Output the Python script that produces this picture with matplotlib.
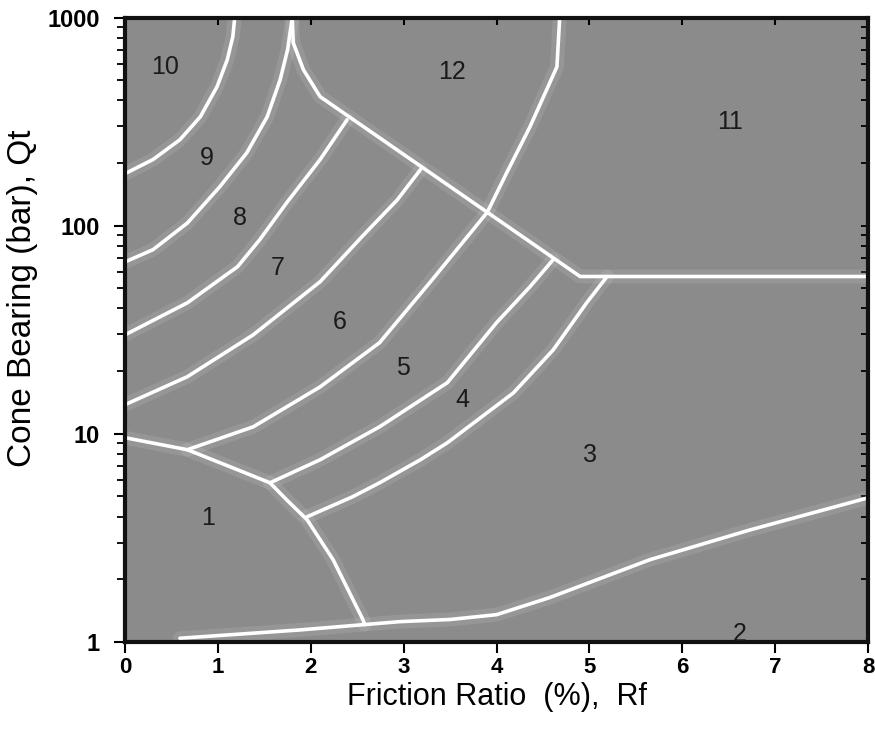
import matplotlib
matplotlib.use("Agg")
import matplotlib.pyplot as plt
from matplotlib.ticker import FixedLocator, FixedFormatter, LogLocator, NullFormatter

plt.rcParams['font.family'] = ['Liberation Sans', 'DejaVu Sans']

# Zonengrenzen (Rf in %, Qt in bar)
grenze_10_9_x = [0.0, 0.30, 0.59, 0.81, 0.99, 1.10, 1.16, 1.18]
grenze_10_9_y = [178, 208, 259, 334, 466, 628, 811, 1000]

grenze_9_8_x = [0.0, 0.30, 0.67, 1.02, 1.31, 1.53, 1.67, 1.75, 1.80]
grenze_9_8_y = [67, 76.7, 103, 154, 224, 334, 504, 702, 1000]

grenze_8_7_x = [0.0, 0.67, 1.21, 1.45, 1.74, 2.10, 2.39]
grenze_8_7_y = [29.9, 42.6, 63.5, 85.7, 129, 208, 323]

grenze_7_6_x = [0.0, 0.67, 1.38, 2.10, 2.56, 2.93, 3.18]
grenze_7_6_y = [13.8, 18.8, 29.9, 53.8, 89.5, 133, 186]

grenze_6_5_x = [0.67, 1.38, 2.10, 2.74, 3.28, 3.90, 4.11, 4.36, 4.54, 4.65, 4.68]
grenze_6_5_y = [8.38, 10.8, 16.8, 27.4, 53.2, 116, 180, 299, 451, 581, 1000]

grenze_5_4_x = [1.56, 2.10, 2.74, 3.18, 3.47, 4.00, 4.36, 4.61]
grenze_5_4_y = [5.81, 7.50, 10.8, 14.5, 17.6, 34.2, 50.9, 68.7]

grenze_4_3_x = [1.96, 2.45, 2.74, 3.18, 3.47, 4.18, 4.61, 4.97, 5.19]
grenze_4_3_y = [3.99, 4.98, 5.81, 7.50, 9.05, 15.7, 25.3, 42.6, 57.0]

grenze_1_x = [0.0, 0.67, 1.13, 1.56, 1.74, 1.96, 2.24, 2.56, 2.58]
grenze_1_y = [9.57, 8.38, 6.94, 5.81, 4.81, 3.86, 2.48, 1.28, 1.21]

grenze_12_x = [1.80, 1.81, 1.92, 2.10, 4.90, 8.0]
grenze_12_y = [1000, 758, 562, 417, 57.0, 57.0]

grenze_2_x = [0.59, 1.88, 2.96, 3.50, 4.00, 4.57, 5.65, 6.73, 8.0]
grenze_2_y = [1.04, 1.14, 1.25, 1.28, 1.35, 1.63, 2.48, 3.45, 4.92]

# Zonennummern
zonen = ["1", "2", "3", "4", "5", "6", "7", "8", "9", "10", "11", "12"]
zonen_x = [0.89, 6.62, 5.01, 3.63, 2.99, 2.31, 1.64, 1.24, 0.88, 0.43, 6.51, 3.52]
zonen_y = [3.95, 1.09, 7.93, 14.6, 20.8, 34.5, 62.8, 109, 212, 581, 316, 550]

x_ticks = [0, 1, 2, 3, 4, 5, 6, 7, 8]
y_ticks = [1, 10, 100, 1000]
y_tick_labels = ["1", "10", "100", "1000"]

grenzen = [
    (grenze_10_9_x, grenze_10_9_y),
    (grenze_9_8_x, grenze_9_8_y),
    (grenze_8_7_x, grenze_8_7_y),
    (grenze_7_6_x, grenze_7_6_y),
    (grenze_6_5_x, grenze_6_5_y),
    (grenze_5_4_x, grenze_5_4_y),
    (grenze_4_3_x, grenze_4_3_y),
    (grenze_1_x, grenze_1_y),
    (grenze_12_x, grenze_12_y),
    (grenze_2_x, grenze_2_y),
]

fig = plt.figure(figsize=(8.75, 7.36), dpi=100)
ax = fig.add_axes([0.143, 0.128, 0.849, 0.848])
ax.set_facecolor("#8b8b8b")

for gx, gy in grenzen:
    # weicher heller Rand wie im Original
    ax.plot(gx, gy, color="white", lw=10, alpha=0.10, solid_capstyle="round", solid_joinstyle="round")
    ax.plot(gx, gy, color="white", lw=2.6, solid_capstyle="round", solid_joinstyle="round")

for z, zx, zy in zip(zonen, zonen_x, zonen_y):
    ax.text(zx, zy, z, fontsize=18, color="#1a1a1a", ha="center", va="center")

ax.set_yscale("log")
ax.set_xlim(0, 8)
ax.set_ylim(1, 1000)

ax.xaxis.set_major_locator(FixedLocator(x_ticks))
ax.yaxis.set_major_locator(FixedLocator(y_ticks))
ax.yaxis.set_major_formatter(FixedFormatter(y_tick_labels))
ax.yaxis.set_minor_locator(LogLocator(base=10, subs=range(2, 10)))
ax.yaxis.set_minor_formatter(NullFormatter())

ax.tick_params(axis="both", which="major", labelsize=16, width=1.5, length=8, direction="out", pad=3)
ax.tick_params(axis="y", which="major", labelsize=17, pad=10)
ax.tick_params(axis="y", which="minor", width=1.3, length=6, direction="out")
for t in ax.xaxis.get_ticklabels() + ax.yaxis.get_ticklabels():
    t.set_fontweight("bold")

# Striche oben und rechts nach innen
oben = ax.secondary_xaxis("top")
oben.xaxis.set_major_locator(FixedLocator(x_ticks))
oben.tick_params(direction="in", length=5, width=1.5, labeltop=False)
rechts = ax.secondary_yaxis("right")
rechts.yaxis.set_major_locator(FixedLocator(y_ticks))
rechts.yaxis.set_minor_locator(LogLocator(base=10, subs=range(2, 10)))
rechts.yaxis.set_minor_formatter(NullFormatter())
rechts.tick_params(which="both", direction="in", length=5, width=1.3, labelright=False)

for s in ax.spines.values():
    s.set_linewidth(3)
    s.set_color("#111111")

ax.set_xlabel("Friction Ratio  (%),  Rf", fontsize=22)
ax.xaxis.set_label_coords(0.5, -0.064)
ax.set_ylabel("Cone Bearing (bar), Qt", fontsize=24)
ax.yaxis.set_label_coords(-0.117, 0.551)

plt.savefig("out.png")
plt.close()
